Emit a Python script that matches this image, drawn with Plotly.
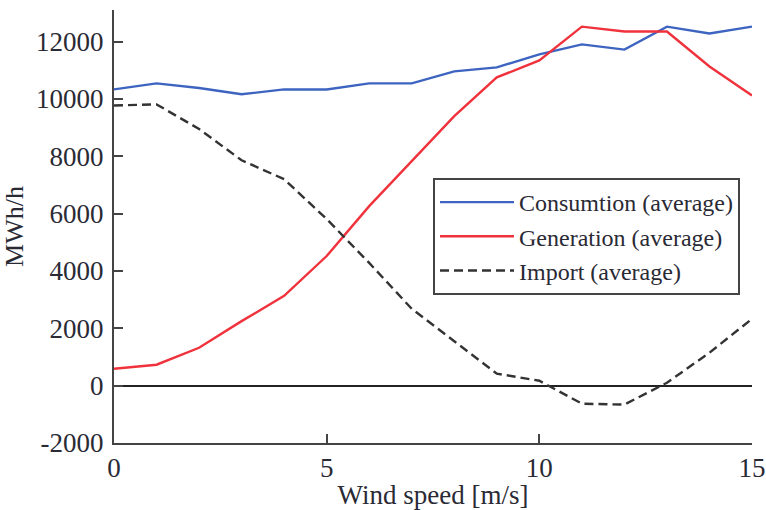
import plotly.graph_objects as go

wind_speed = list(range(16))
consumption = [10330, 10540, 10380, 10160, 10330, 10330, 10540, 10540, 10960, 11100, 11550, 11900, 11720, 12520, 12280, 12520]
generation = [590, 730, 1320, 2250, 3130, 4520, 6260, 7830, 9400, 10750, 11340, 12520, 12350, 12350, 11130, 10120]
import_avg = [9770, 9810, 8950, 7860, 7200, 5810, 4280, 2680, 1550, 420, 170, -630, -660, 100, 1150, 2330]
y_ticks = [-2000, 0, 2000, 4000, 6000, 8000, 10000, 12000]
x_ticks = [0, 5, 10, 15]

font_family = "Liberation Serif, Times New Roman, serif"
text_color = "#2a2a35"

fig = go.Figure()
fig.add_trace(go.Scatter(x=wind_speed, y=consumption, mode="lines", name="Consumtion (average)",
                         line=dict(color="#3d64c0", width=2.4)))
fig.add_trace(go.Scatter(x=wind_speed, y=generation, mode="lines", name="Generation (average)",
                         line=dict(color="#f0323c", width=2.4)))
fig.add_trace(go.Scatter(x=wind_speed, y=import_avg, mode="lines", name="Import (average)",
                         line=dict(color="#333333", width=2.4, dash="9px,5px")))

fig.update_layout(
    width=766, height=510,
    margin=dict(l=114, r=14, t=10, b=67, autoexpand=False),
    paper_bgcolor="white", plot_bgcolor="white",
    font=dict(family=font_family, size=24, color=text_color),
    showlegend=True,
    legend=dict(x=0.5, y=0.612, xanchor="left", yanchor="top",
                bordercolor="#444444", borderwidth=2, bgcolor="white",
                font=dict(size=24, family=font_family, color=text_color),
                tracegroupgap=0, itemwidth=74),
    xaxis=dict(range=[0, 15], tickvals=x_ticks, ticktext=[str(v) for v in x_ticks],
               ticks="inside", ticklen=9,
               tickwidth=2, tickcolor="#444444", showline=True, linecolor="#444444",
               linewidth=2, showgrid=False, zeroline=False, automargin=False,
               title=dict(text="Wind speed [m/s]", standoff=0, font=dict(size=27)),
               tickfont=dict(size=27)),
    yaxis=dict(range=[-2000, 13100], tickvals=y_ticks, ticktext=[str(v) for v in y_ticks],
               ticks="inside", ticklen=9, tickwidth=2, tickcolor="#444444",
               showline=True, linecolor="#444444", linewidth=2, showgrid=False,
               zeroline=True, zerolinecolor="#222222", zerolinewidth=2, automargin=False,
               ticklabelstandoff=3,
               title=dict(text="MWh/h", standoff=8, font=dict(size=26)),
               tickfont=dict(size=27)),
)

fig.write_html("out.html", post_script="document.body.style.margin='0';",
               config={"displayModeBar": False})
